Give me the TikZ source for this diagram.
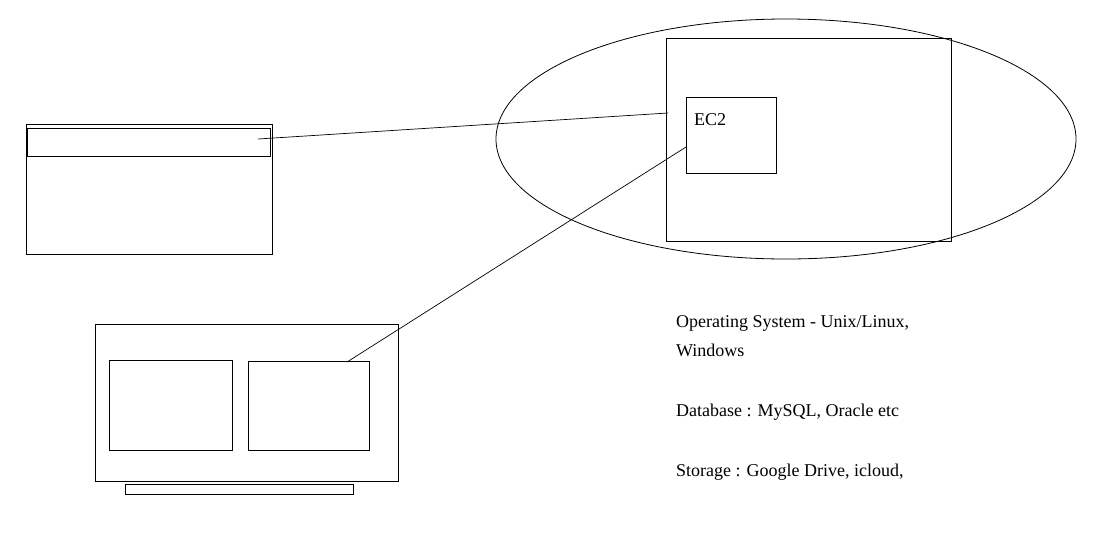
\documentclass[tikz,border=0pt]{standalone}
\usepackage{fontspec}
\usetikzlibrary{shapes.geometric}
\setmainfont{Liberation Serif}
\begin{document}
\begin{tikzpicture}[x=1pt,y=-1pt,
  box/.style={draw,line width=1pt,rectangle,inner sep=0pt,anchor=north west},
  conn/.style={line width=0.7pt},
  lbl/.style={anchor=base west,inner sep=0pt,font=\fontsize{18}{22}\selectfont}]
\useasboundingbox (0,0) rectangle (1098,547);
% ellipse
\node[draw,line width=0.8pt,ellipse,inner sep=0pt,minimum width=580,minimum height=240] (cloud) at (786,139) {};
% left window
\node[box,minimum width=246,minimum height=130] (win) at (26,124) {};
\node[box,minimum width=243,minimum height=28] (bar) at (27,128) {};
% server box
\node[box,minimum width=285,minimum height=203] (server) at (666,38) {};
\node[box,minimum width=90,minimum height=76] (ec2) at (686,97) {};
\node[lbl] (ec2t) at (694,125) {EC2};
% laptop
\node[box,minimum width=303,minimum height=157] (laptop) at (95,324) {};
\node[box,minimum width=123,minimum height=90] (scrL) at (109,360) {};
\node[box,minimum width=121,minimum height=89] (scrR) at (248,361) {};
\node[box,minimum width=228,minimum height=10] (base) at (125,484) {};
% connector end points
\coordinate (barend) at (258,139);
\coordinate (servin) at (668,113);
\coordinate (ec2in) at (686,147);
\coordinate (scrpt) at (347,362);
\draw[conn] (barend) -- (servin);
\draw[conn] (ec2in) -- (scrpt);
% labels
\node[lbl] (os) at (676,327) {Operating System - Unix/Linux,};
\node[lbl] (win2) at (676,356) {Windows};
\node[lbl] (db) at (676,416) {Database : MySQL, Oracle etc};
\node[lbl] (st) at (676,476) {Storage : Google Drive, icloud,};
\end{tikzpicture}
\end{document}
